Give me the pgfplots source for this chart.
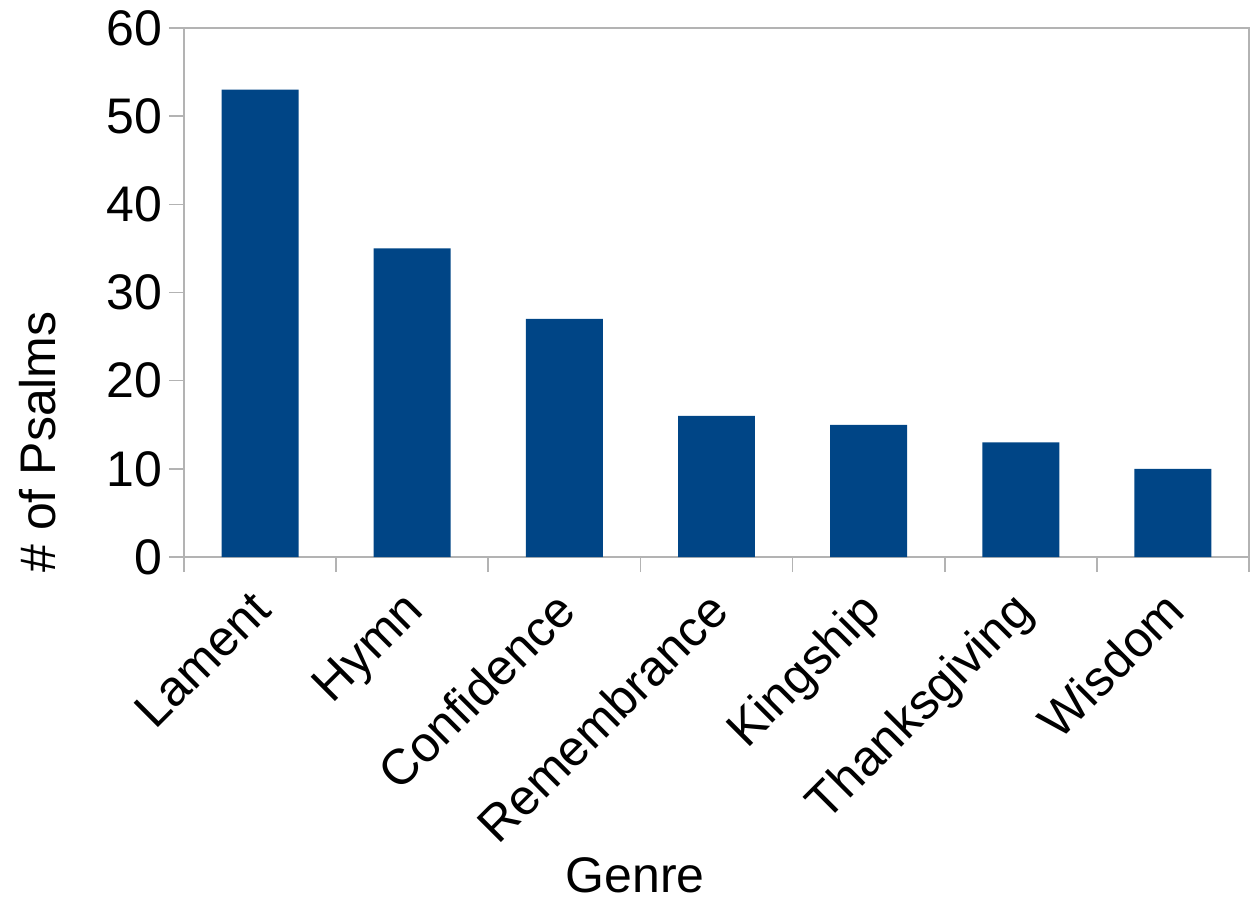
\documentclass[border=0pt]{standalone}
\usepackage{fontspec}
\setmainfont{Liberation Sans}
\usepackage{pgfplots}
\pgfplotsset{compat=1.18}
\usetikzlibrary{calc}
\definecolor{barblue}{HTML}{004586}
\definecolor{axgray}{HTML}{B3B3B3}
\begin{document}
\begin{tikzpicture}
\begin{axis}[
  scale only axis,
  width=532.5pt, height=264.5pt,
  xmin=-0.5, xmax=6.5, ymin=0, ymax=60,
  ybar, bar width=0.506,
  ytick={0,10,...,60},
  xtick={-0.5,0.5,...,6.5},
  xticklabels={},
  xtick pos=bottom, ytick pos=left,
  extra x ticks={0,...,6},
  extra x tick labels={Lament,Hymn,Confidence,Remembrance,Kingship,Thanksgiving,Wisdom},
  extra x tick style={major tick length=0pt,
    xticklabel style={rotate=45, anchor=north east, xshift=-11.5pt, yshift=-3.5pt}},
  tick align=outside,
  major tick length=7.5pt,
  tick style={axgray, line width=0.8pt},
  axis line style={axgray, line width=0.8pt},
  every tick label/.append style={font=\fontsize{25}{30}\selectfont},
  /pgf/number format/assume math mode=true,
  label style={font=\fontsize{25}{30}\selectfont},
  xlabel={Genre},
  xlabel style={at={(axis description cs:0.4235,-0.635)}, anchor=base},
  ylabel={\# of Psalms},
  ylabel style={at={(axis description cs:-0.1211,0.2174)}, anchor=base},
]
\addplot[fill=barblue, draw=none] coordinates {
  (0,53) (1,35) (2,27) (3,16) (4,15) (5,13) (6,10)};
\coordinate (O) at (rel axis cs:0,0);
\coordinate (T) at (rel axis cs:1,1);
\end{axis}
\pgfresetboundingbox
\useasboundingbox ($(O)+(-92pt,-170.5pt)$) rectangle ($(T)+(4pt,14pt)$);
\end{tikzpicture}
\end{document}
